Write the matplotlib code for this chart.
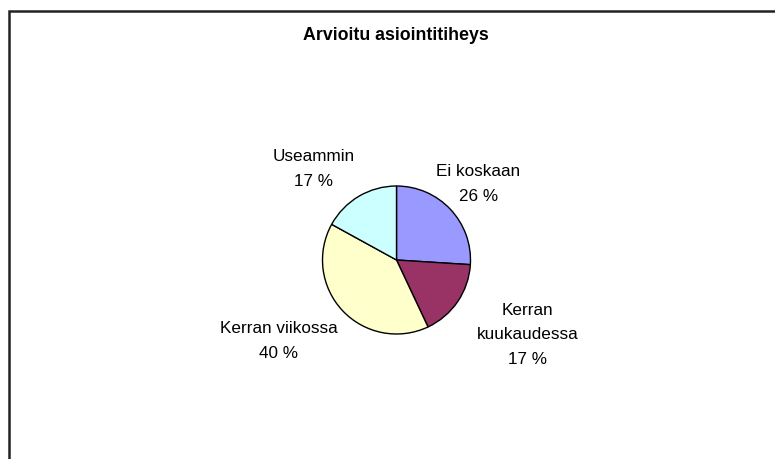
import matplotlib
matplotlib.use("Agg")
import matplotlib.pyplot as plt

plt.rcParams['font.family'] = ['Liberation Sans', 'DejaVu Sans']

title = "Arvioitu asiointitiheys"
categories = ["Ei koskaan", "Kerran\nkuukaudessa", "Kerran viikossa", "Useammin"]
values = [26, 17, 40, 17]
colors = ["#9999FF", "#993366", "#FFFFCC", "#CCFFFF"]

W, H = 775, 460
fig = plt.figure(figsize=(W / 100, H / 100), dpi=100)
ax = fig.add_axes([0, 0, 1, 1])

cx, cy, r = 396.5, H - 261, 74
wedges, _ = ax.pie(values, colors=colors, startangle=90, counterclock=False,
                   center=(cx, cy), radius=r, frame=True,
                   wedgeprops=dict(edgecolor="black", linewidth=1.0))
ax.set_xlim(0, W)
ax.set_ylim(0, H)
ax.set_aspect("auto")
ax.axis("off")

# label positions (pixel offsets from the pie centre)
label_pos = [(82, 77), (131, -74), (-118, -80), (-83, 92)]
total = sum(values)
for cat, v, (dx, dy) in zip(categories, values, label_pos):
    ax.text(cx + dx, cy + dy, f"{cat}\n{round(100 * v / total)} %",
            ha="center", va="center", fontsize=12.3, linespacing=1.78,
            color="black")

ax.text(396, H - 35, title, ha="center", va="center", fontsize=12.8,
        fontweight="bold")

# chart area border (only left and top visible)
ax.plot([8.5, 8.5, W], [0, H - 11.5, H - 11.5], color="#222222",
        linewidth=1.8, solid_joinstyle="miter", clip_on=False)

fig.savefig("out.png", dpi=100)
